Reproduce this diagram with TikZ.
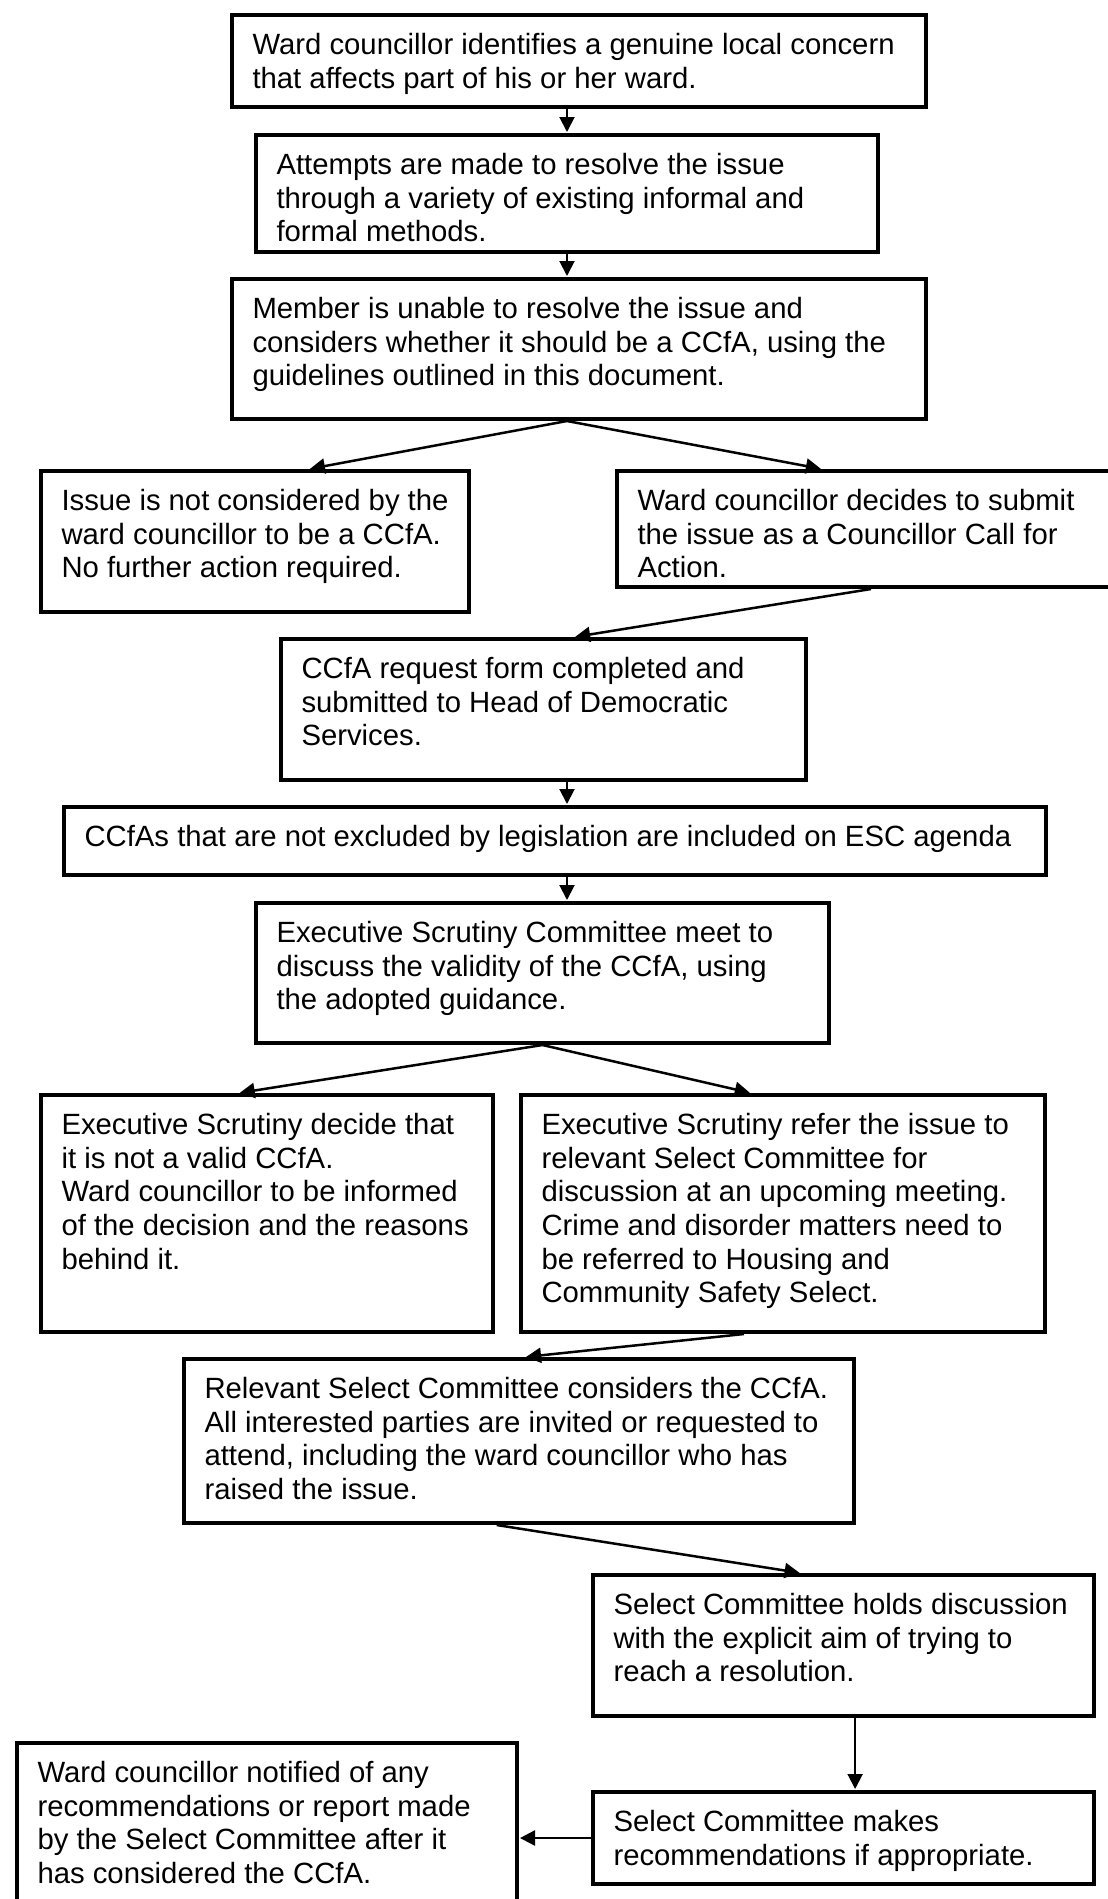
\documentclass[tikz,border=0pt]{standalone}
\usepackage{fontspec}
\setmainfont{Liberation Sans}
\usepackage{tikz}
\usetikzlibrary{arrows.meta}
\usetikzlibrary{calc}

\newcommand{\boxfont}{\fontsize{29.3}{33.6}\selectfont}

\begin{document}
\begin{tikzpicture}[x=1pt,y=-1pt,->,>={Triangle[length=15pt,width=15pt]},
                    shorten >=1pt,line width=2.5pt]
  \tikzset{flowbox/.style 2 args={draw,line width=4pt,anchor=north west,
      inner xsep=20.5pt,inner ysep=0pt,font=\boxfont,
      execute at begin node={\begin{minipage}[t][#2pt][t]{#1pt}\vspace*{18.5pt}\raggedright},
      execute at end node={\end{minipage}}}}
  \useasboundingbox (0,0) rectangle (1108,1899);

  \node[flowbox={653}{92}]  (concern)   at (230,13)   {Ward councillor identifies a genuine local concern\\that affects part of his or her ward.};
  \node[flowbox={581}{117}] (attempts)  at (254,133)  {Attempts are made to resolve the issue\\through a variety of existing informal and\\formal methods.};
  \node[flowbox={653}{140}] (unable)    at (230,277)  {Member is unable to resolve the issue and\\considers whether it should be a CCfA, using the\\guidelines outlined in this document.};
  \node[flowbox={387}{141}] (notccfa)   at (39,469)   {Issue is not considered by the\\ward councillor to be a CCfA.\\No further action required.};
  \node[flowbox={457}{116}] (submit)    at (615,469)  {Ward councillor decides to submit\\the issue as a Councillor Call for\\Action.};
  \node[flowbox={484}{141}] (form)      at (279,637)  {CCfA request form completed and\\submitted to Head of Democratic\\Services.};
  \node[flowbox={941}{68}]  (agenda)    at (62,805)   {\centering CCfAs that are not excluded by legislation are included on ESC agenda};
  \node[flowbox={532}{140}] (esc)       at (254,901)  {Executive Scrutiny Committee meet to\\discuss the validity of the CCfA, using\\the adopted guidance.};
  \node[flowbox={411}{237}] (invalid)   at (39,1093)  {Executive Scrutiny decide that\\it is not a valid CCfA.\\Ward councillor to be informed\\of the decision and the reasons\\behind it.};
  \node[flowbox={483}{237}] (refer)     at (519,1093) {Executive Scrutiny refer the issue to\\relevant Select Committee for\\discussion at an upcoming meeting.\\Crime and disorder matters need to\\be referred to Housing and\\Community Safety Select.};
  \node[flowbox={629}{164}] (considers) at (182,1357) {Relevant Select Committee considers the CCfA.\\All interested parties are invited or requested to\\attend, including the ward councillor who has\\raised the issue.};
  \node[flowbox={460}{141}] (holds)     at (591,1573) {Select Committee holds discussion\\with the explicit aim of trying to\\reach a resolution.};
  \node[flowbox={460}{92}]  (makes)     at (591,1790) {Select Committee makes\\recommendations if appropriate.};
  \node[flowbox={459}{162}] (notified)  at (15,1741)  {Ward councillor notified of any\\recommendations or report made\\by the Select Committee after it\\has considered the CCfA.};

  \path (concern.south -| attempts.north) edge[line width=2pt] (attempts.north)
        (attempts.south) edge[line width=2pt] (attempts.south |- unable.north)
        (unable.south -| attempts.south) edge ($(notccfa.north west)!0.625!(notccfa.north east)$)
        (unable.south -| attempts.south) edge ($(submit.north west)!0.412!(submit.north east)$)
        ($(submit.south west)!0.51!(submit.south east)$) edge ($(form.north west)!0.558!(form.north east)$)
        (form.south -| attempts.south) edge[line width=2pt] (agenda.north -| attempts.south)
        (agenda.south -| attempts.south) edge[line width=2pt] (esc.north -| attempts.south)
        (esc.south) edge ($(invalid.north west)!0.438!(invalid.north east)$)
        (esc.south) edge ($(refer.north west)!0.439!(refer.north east)$)
        ($(refer.south west)!0.426!(refer.south east)$) edge ($(considers.north west)!0.509!(considers.north east)$)
        ($(considers.south west)!0.467!(considers.south east)$) edge ($(holds.north west)!0.415!(holds.north east)$)
        ($(holds.south west)!0.523!(holds.south east)$) edge[line width=2pt] ($(makes.north west)!0.523!(makes.north east)$)
        (makes.west) edge (makes.west -| notified.east);
\end{tikzpicture}
\end{document}
